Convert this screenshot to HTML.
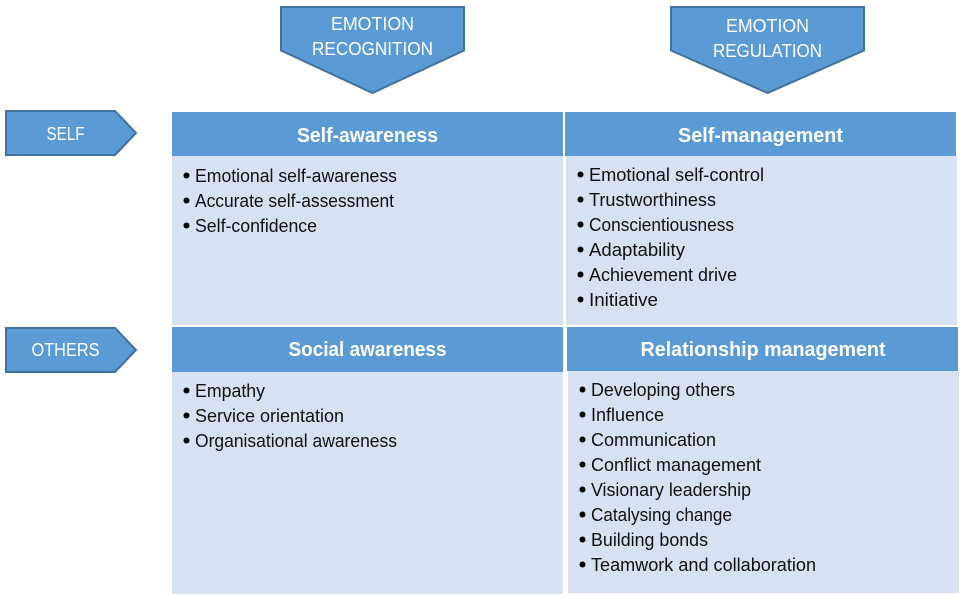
<!DOCTYPE html>
<html><head><meta charset="utf-8"><style>
html,body{margin:0;padding:0;background:#fff;width:964px;height:595px;overflow:hidden}
svg{display:block}
text{font-family:"Liberation Sans",sans-serif}
.i{font-size:18px;fill:#111}
.h{font-size:20px;font-weight:bold;fill:#fff;text-anchor:middle}
.w{font-size:18px;fill:#fff;text-anchor:middle}
</style></head><body>
<svg width="964" height="595" viewBox="0 0 964 595" xmlns="http://www.w3.org/2000/svg">
<rect width="964" height="595" fill="#fff"/>
<g fill="#5b9bd5" stroke="#41719c" stroke-width="2">
<polygon points="281,7 464,7 464,50.500 372.500,93 281,50.500"/>
<polygon points="671,7 864,7 864,50.500 767.500,93 671,50.500"/>
<polygon points="6,111 115,111 136,133 115,155 6,155"/>
<polygon points="6,328 115,328 136,350 115,372 6,372"/>
</g>
<text class="w" x="372.500" y="30" textLength="83" lengthAdjust="spacingAndGlyphs">EMOTION</text>
<text class="w" x="372.500" y="55" textLength="121" lengthAdjust="spacingAndGlyphs">RECOGNITION</text>
<text class="w" x="767.500" y="32" textLength="83" lengthAdjust="spacingAndGlyphs">EMOTION</text>
<text class="w" x="767.500" y="57" textLength="109" lengthAdjust="spacingAndGlyphs">REGULATION</text>
<text class="w" x="65.500" y="140" textLength="38" lengthAdjust="spacingAndGlyphs">SELF</text>
<text class="w" x="65.500" y="356" textLength="68" lengthAdjust="spacingAndGlyphs">OTHERS</text>

<rect x="172" y="156" width="391" height="169" fill="#d6e1f1"/>
<rect x="566" y="156" width="391" height="169" fill="#d6e1f1"/>
<rect x="172" y="372" width="391" height="222" fill="#d6e1f1"/>
<rect x="568" y="371" width="391" height="222" fill="#d6e1f1"/>
<rect x="172" y="112" width="391" height="44" fill="#5b9bd5"/>
<rect x="565" y="112" width="391" height="44" fill="#5b9bd5"/>
<rect x="172" y="327" width="391" height="45" fill="#5b9bd5"/>
<rect x="567" y="327" width="391" height="44" fill="#5b9bd5"/>

<text class="h" x="367.500" y="142" textLength="141" lengthAdjust="spacingAndGlyphs">Self-awareness</text>
<text class="h" x="760.500" y="142" textLength="165" lengthAdjust="spacingAndGlyphs">Self-management</text>
<text class="h" x="367.500" y="356" textLength="158" lengthAdjust="spacingAndGlyphs">Social awareness</text>
<text class="h" x="763" y="356" textLength="245" lengthAdjust="spacingAndGlyphs">Relationship management</text>

<g fill="#000">
<circle cx="186.500" cy="175.500" r="3"/><circle cx="186.500" cy="200.500" r="3"/><circle cx="186.500" cy="225.500" r="3"/>
<circle cx="580.500" cy="174.500" r="3"/><circle cx="580.500" cy="199.500" r="3"/><circle cx="580.500" cy="224.500" r="3"/><circle cx="580.500" cy="249.500" r="3"/><circle cx="580.500" cy="274.500" r="3"/><circle cx="580.500" cy="299.500" r="3"/>
<circle cx="186.500" cy="390.500" r="3"/><circle cx="186.500" cy="415.500" r="3"/><circle cx="186.500" cy="440.500" r="3"/>
<circle cx="582.500" cy="389.500" r="3"/><circle cx="582.500" cy="414.500" r="3"/><circle cx="582.500" cy="439.500" r="3"/><circle cx="582.500" cy="464.500" r="3"/><circle cx="582.500" cy="489.500" r="3"/><circle cx="582.500" cy="514.500" r="3"/><circle cx="582.500" cy="539.500" r="3"/><circle cx="582.500" cy="564.500" r="3"/>
</g>

<text class="i" x="195" y="182" textLength="202" lengthAdjust="spacingAndGlyphs">Emotional self-awareness</text>
<text class="i" x="195" y="207" textLength="199" lengthAdjust="spacingAndGlyphs">Accurate self-assessment</text>
<text class="i" x="195" y="232" textLength="122" lengthAdjust="spacingAndGlyphs">Self-confidence</text>

<text class="i" x="589" y="181" textLength="175" lengthAdjust="spacingAndGlyphs">Emotional self-control</text>
<text class="i" x="589" y="206" textLength="127" lengthAdjust="spacingAndGlyphs">Trustworthiness</text>
<text class="i" x="589" y="231" textLength="145" lengthAdjust="spacingAndGlyphs">Conscientiousness</text>
<text class="i" x="589" y="256" textLength="96" lengthAdjust="spacingAndGlyphs">Adaptability</text>
<text class="i" x="589" y="281" textLength="148" lengthAdjust="spacingAndGlyphs">Achievement drive</text>
<text class="i" x="589" y="306" textLength="69" lengthAdjust="spacingAndGlyphs">Initiative</text>

<text class="i" x="195" y="397" textLength="70" lengthAdjust="spacingAndGlyphs">Empathy</text>
<text class="i" x="195" y="422" textLength="149" lengthAdjust="spacingAndGlyphs">Service orientation</text>
<text class="i" x="195" y="447" textLength="202" lengthAdjust="spacingAndGlyphs">Organisational awareness</text>

<text class="i" x="591" y="396" textLength="144" lengthAdjust="spacingAndGlyphs">Developing others</text>
<text class="i" x="591" y="421" textLength="73" lengthAdjust="spacingAndGlyphs">Influence</text>
<text class="i" x="591" y="446" textLength="125" lengthAdjust="spacingAndGlyphs">Communication</text>
<text class="i" x="591" y="471" textLength="170" lengthAdjust="spacingAndGlyphs">Conflict management</text>
<text class="i" x="591" y="496" textLength="160" lengthAdjust="spacingAndGlyphs">Visionary leadership</text>
<text class="i" x="591" y="521" textLength="141" lengthAdjust="spacingAndGlyphs">Catalysing change</text>
<text class="i" x="591" y="546" textLength="117" lengthAdjust="spacingAndGlyphs">Building bonds</text>
<text class="i" x="591" y="571" textLength="225" lengthAdjust="spacingAndGlyphs">Teamwork and collaboration</text>
</svg>
</body></html>
